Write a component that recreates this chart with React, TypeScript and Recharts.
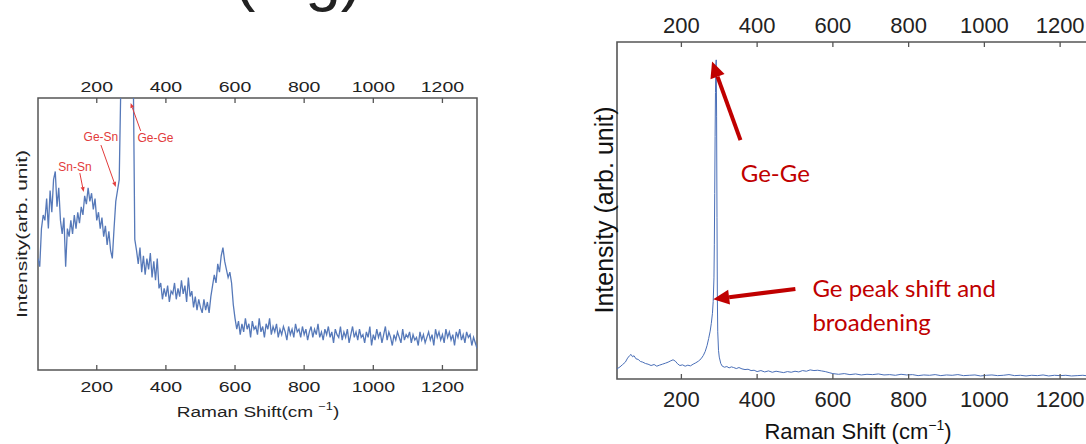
import React from 'react';
import { LineChart, Line, XAxis, YAxis, ReferenceArea, ReferenceLine, ReferenceDot } from 'recharts';

const shiftDomain: [number, number] = [30, 1300];
const shiftTicks = [200, 400, 600, 800, 1000, 1200];

// Enlarged spectrum, one reading every 5 cm-1 starting at 30 cm-1 (Ge-Ge peak runs off the top)
const enlargedStart = 30;
const enlargedStep = 5;
const enlargedIntensity = [
  41, 38, 52, 57, 55, 63, 52, 66, 58, 70, 73, 60, 67, 55, 50, 56, 38, 52, 49, 55,
  50, 57, 52, 58, 54, 60, 57, 64, 61, 67, 62, 65, 59, 63, 55, 58, 52, 56, 49, 53,
  46, 51, 44, 41, 52, 62, 66, 70, 108, 210, 310, 390, 400, 350, 240, 118, 48, 44, 39, 45,
  36, 42, 35, 41, 37, 43, 34, 40, 33, 41, 30, 32, 26, 30, 27, 31, 25, 29, 28, 32,
  26, 30, 27, 33, 28, 31, 25, 34, 27, 29, 23, 27, 22, 26, 23, 21, 26, 22, 25, 21,
  27, 31, 35, 32, 39, 36, 42, 45, 40, 37, 34, 36, 32, 24, 19, 15, 18, 13, 17, 14,
  19, 15, 17, 12, 18, 15, 16, 13, 19, 14, 16, 12, 17, 15, 19, 13, 16, 14, 17, 12,
  15, 13, 16, 14, 11, 16, 13, 15, 12, 17, 14, 15, 12, 16, 13, 15, 11, 14, 16, 12,
  15, 13, 17, 12, 14, 11, 15, 13, 16, 12, 14, 10, 15, 13, 12, 16, 11, 14, 12, 15,
  10, 13, 16, 12, 14, 11, 15, 12, 13, 10, 14, 12, 16, 9, 13, 11, 15, 12, 14, 10,
  13, 16, 11, 14, 12, 9, 13, 11, 14, 12, 10, 15, 11, 13, 12, 14, 10, 13, 11, 12,
  9, 14, 11, 13, 10, 12, 14, 11, 13, 9, 15, 12, 14, 11, 13, 10, 15, 12, 14, 11,
  13, 9, 14, 12, 15, 11, 13, 10, 14, 12, 13, 9, 12, 10, 8,
];

// Full spectrum as [shift, intensity]
const fullSpectrum: [number, number][] = [
  [30, 3.0], [38, 3.6], [45, 4.3], [52, 5.0], [58, 6.2], [63, 6.9], [67, 7.3], [71, 6.6],
  [75, 6.9], [80, 6.0], [86, 5.8], [92, 5.2], [98, 5.0], [105, 4.6], [112, 4.4], [120, 4.0],
  [128, 4.3], [135, 3.8], [142, 4.1], [150, 4.4], [158, 4.7], [165, 5.0], [172, 5.4], [178, 5.7],
  [184, 5.3], [190, 4.5], [196, 4.0], [203, 4.2], [210, 3.8], [217, 4.1], [224, 3.9], [231, 4.4],
  [238, 4.8], [245, 5.3], [252, 6.0], [258, 7.0], [263, 8.2], [268, 10.0], [272, 12.0], [276, 14.2],
  [279, 16.5], [282, 19.5], [284, 23], [286, 30], [287, 40], [288, 55], [289, 72], [290, 85],
  [291, 93], [292, 94.7], [293, 78], [294, 48], [295, 24], [296, 14], [298, 8.5], [300, 6.5],
  [304, 4.6], [308, 3.8], [314, 3.5], [320, 3.7], [326, 3.3], [332, 3.6], [338, 3.4], [345, 3.1],
  [352, 3.4], [360, 3.0], [368, 2.8], [376, 2.9], [384, 2.5], [392, 2.6], [400, 2.2], [410, 2.5],
  [420, 2.1], [430, 2.4], [440, 2.0], [450, 2.3], [460, 2.1], [470, 1.9], [480, 2.2], [490, 2.0],
  [500, 2.3], [510, 2.1], [520, 2.5], [530, 2.3], [540, 2.7], [550, 2.5], [560, 2.6], [570, 2.4],
  [580, 2.2], [590, 1.9], [600, 1.6], [615, 1.4], [630, 1.6], [645, 1.3], [660, 1.5], [675, 1.2],
  [690, 1.4], [705, 1.3], [720, 1.5], [735, 1.2], [750, 1.3], [765, 1.1], [780, 1.4], [795, 1.2],
  [810, 1.3], [825, 1.0], [840, 1.2], [855, 1.1], [870, 1.3], [885, 1.0], [900, 1.2], [915, 1.1],
  [930, 1.3], [945, 1.0], [960, 1.1], [975, 1.2], [990, 0.9], [1005, 1.1], [1020, 1.2], [1035, 1.0],
  [1050, 1.1], [1065, 1.3], [1080, 1.0], [1095, 1.1], [1110, 0.9], [1125, 1.1], [1140, 1.0], [1155, 1.2],
  [1170, 0.9], [1185, 1.1], [1200, 1.0], [1215, 1.1], [1230, 0.9], [1245, 1.0], [1260, 1.1], [1275, 0.9],
  [1290, 1.0], [1300, 1.0],
];

// Peak labels: text anchor, arrow tail and arrow tip, all in (shift, intensity)
const enlargedNotes = [
  { text: 'Sn-Sn', at: [137, 74.6], from: [151, 72.4], to: [162, 65.4] },
  { text: 'Ge-Sn', at: [212, 85.7], from: [212, 82.7], to: [255, 67.3] },
  { text: 'Ge-Ge', at: [370, 85.3], from: [327, 87.9], to: [298, 98.2] },
];
const fullArrows = [
  { from: [356, 70.9], to: [281, 94.2] },
  { from: [501, 26.7], to: [284, 23.7] },
];
const fullNotes = [
  { text: 'Ge-Ge', at: [448, 61.4], anchor: 'middle' },
  { text: 'Ge peak shift and', at: [546, 24.3], anchor: 'start' },
  { text: 'broadening', at: [546, 14.2], anchor: 'start' },
];

const enlargedData = enlargedIntensity.map((v, i) => ({ shift: enlargedStart + i * enlargedStep, v }));
const fullData = fullSpectrum.map(([shift, v]) => ({ shift, v }));

const FONT = '"Liberation Sans", Arial, sans-serif';
const FRAME = '#555';

// Tick with an inward tick mark; text can be stretched horizontally
const makeTick = (side: 'top' | 'bottom', fontSize: number, stretch: number, gap: number) => (props: any) => {
  const { x, y, payload } = props;
  const inward = side === 'bottom' ? -5 : 5;
  const ty = side === 'bottom' ? y + gap : y - gap;
  return (
    <g>
      <line x1={x} x2={x} y1={y} y2={y + inward} stroke={FRAME} strokeWidth={1.3} />
      <text
        transform={`translate(${x},${ty}) scale(${stretch},1)`}
        textAnchor="middle"
        fontSize={fontSize}
        fontFamily={FONT}
        fill="#222"
      >
        {payload.value}
      </text>
    </g>
  );
};

const arrowShape = (color: string, width: number, head: number, headWidth: number) => (p: any) => {
  const { x1, y1, x2, y2 } = p;
  const ang = Math.atan2(y2 - y1, x2 - x1);
  const bx = x2 - head * Math.cos(ang);
  const by = y2 - head * Math.sin(ang);
  const px = -Math.sin(ang) * headWidth / 2;
  const py = Math.cos(ang) * headWidth / 2;
  return (
    <g>
      <line x1={x1} y1={y1} x2={bx} y2={by} stroke={color} strokeWidth={width} />
      <polygon points={`${x2},${y2} ${bx + px},${by + py} ${bx - px},${by - py}`} fill={color} />
    </g>
  );
};

const textShape = (text: string, color: string, size: number, family: string, anchor: string, baseline: string) => (p: any) => (
  <text x={p.cx} y={p.cy} fill={color} fontSize={size} fontFamily={family} textAnchor={anchor} dominantBaseline={baseline}>
    {text}
  </text>
);

const EnlargedChart = () => (
  <LineChart width={490} height={444} data={enlargedData} margin={{ top: 97, right: 13, bottom: 73, left: 38 }}>
    <XAxis
      xAxisId="b" dataKey="shift" type="number" domain={shiftDomain} ticks={shiftTicks} allowDataOverflow
      interval={0} height={1} axisLine={false} tickLine={false} tickSize={0} tickMargin={0}
      tick={makeTick('bottom', 15, 1.3, 22)}
    />
    <XAxis
      xAxisId="t" orientation="top" dataKey="shift" type="number" domain={shiftDomain} ticks={shiftTicks} allowDataOverflow
      interval={0} height={1} axisLine={false} tickLine={false} tickSize={0} tickMargin={0}
      tick={makeTick('top', 15, 1.3, 6)}
    />
    <YAxis yAxisId="y" hide type="number" domain={[0, 100]} allowDataOverflow />
    <ReferenceArea
      xAxisId="b" yAxisId="y" x1={shiftDomain[0]} x2={shiftDomain[1]} y1={0} y2={100}
      fill="none" stroke={FRAME} strokeWidth={1.5} ifOverflow="visible"
    />
    <Line
      xAxisId="b" yAxisId="y" type="linear" dataKey="v" stroke="#5679b9" strokeWidth={1.3}
      dot={false} isAnimationActive={false}
    />
    {enlargedNotes.map((n) => (
      <ReferenceLine
        key={n.text + '-arrow'} xAxisId="b" yAxisId="y"
        segment={[{ x: n.from[0], y: n.from[1] }, { x: n.to[0], y: n.to[1] }]}
        shape={arrowShape('#e23b3b', 1, 5, 4)} ifOverflow="visible"
      />
    ))}
    {enlargedNotes.map((n) => (
      <ReferenceDot
        key={n.text} xAxisId="b" yAxisId="y" x={n.at[0]} y={n.at[1]} r={0} ifOverflow="visible"
        shape={textShape(n.text, '#e23b3b', 12, FONT, 'middle', 'central')}
      />
    ))}
  </LineChart>
);

const FullChart = () => (
  <LineChart width={560} height={444} data={fullData} margin={{ top: 41, right: 22, bottom: 64, left: 57 }}>
    <XAxis
      xAxisId="b" dataKey="shift" type="number" domain={shiftDomain} ticks={shiftTicks} allowDataOverflow
      interval={0} height={1} axisLine={false} tickLine={false} tickSize={0} tickMargin={0}
      tick={makeTick('bottom', 22, 1, 28)}
    />
    <XAxis
      xAxisId="t" orientation="top" dataKey="shift" type="number" domain={shiftDomain} ticks={shiftTicks} allowDataOverflow
      interval={0} height={1} axisLine={false} tickLine={false} tickSize={0} tickMargin={0}
      tick={makeTick('top', 22, 1, 9)}
    />
    <YAxis yAxisId="y" hide type="number" domain={[0, 100]} allowDataOverflow />
    <ReferenceArea
      xAxisId="b" yAxisId="y" x1={shiftDomain[0]} x2={shiftDomain[1]} y1={0} y2={100}
      fill="none" stroke={FRAME} strokeWidth={1.6} ifOverflow="visible"
    />
    <Line
      xAxisId="b" yAxisId="y" type="linear" dataKey="v" stroke="#4a6fb8" strokeWidth={1}
      dot={false} isAnimationActive={false}
    />
    {fullArrows.map((a, i) => (
      <ReferenceLine
        key={'arrow' + i} xAxisId="b" yAxisId="y"
        segment={[{ x: a.from[0], y: a.from[1] }, { x: a.to[0], y: a.to[1] }]}
        shape={arrowShape('#c00000', 4, 16, 15)} ifOverflow="visible"
      />
    ))}
    {fullNotes.map((n) => (
      <ReferenceDot
        key={n.text} xAxisId="b" yAxisId="y" x={n.at[0]} y={n.at[1]} r={0} ifOverflow="visible"
        shape={textShape(n.text, '#c00000', 24, 'Lato, "Open Sans", sans-serif', n.anchor,
          n.anchor === 'middle' ? 'central' : 'alphabetic')}
      />
    ))}
  </LineChart>
);

export default function App() {
  return (
    <div style={{ position: 'fixed', left: 0, top: 0, width: 1086, height: 444, overflow: 'hidden', background: '#fff' }}>
      <div style={{ position: 'absolute', left: 0, top: 0 }}>
        <EnlargedChart />
      </div>
      <div style={{ position: 'absolute', left: 560, top: 0 }}>
        <FullChart />
      </div>
      <svg width={1086} height={444} style={{ position: 'absolute', left: 0, top: 0, pointerEvents: 'none' }}>
        {/* slide heading above the enlarged panel; only its lowest strokes reach the page */}
        <text x={234} y={-1} fontSize={64} fontFamily={FONT} fill="#222">(log)</text>

        <text transform="translate(258,417) scale(1.27,1)" textAnchor="middle" fontSize={15} fontFamily={FONT} fill="#222">
          Raman Shift(cm <tspan dy={-7} fontSize={10}>−1</tspan>
          <tspan dy={7}>)</tspan>
        </text>
        <text transform="translate(27,234) rotate(-90) scale(1.4,1)" textAnchor="middle" fontSize={15} fontFamily={FONT} fill="#222">
          Intensity(arb. unit)
        </text>

        <text x={858} y={439} textAnchor="middle" fontSize={22} fontFamily={FONT} fill="#111">
          Raman Shift (cm<tspan dy={-9} fontSize={14}>−1</tspan>
          <tspan dy={9}>)</tspan>
        </text>
        <text transform="translate(613,210) rotate(-90)" textAnchor="middle" fontSize={25} fontFamily={FONT} fill="#111">
          Intensity (arb. unit)
        </text>
      </svg>
    </div>
  );
}
